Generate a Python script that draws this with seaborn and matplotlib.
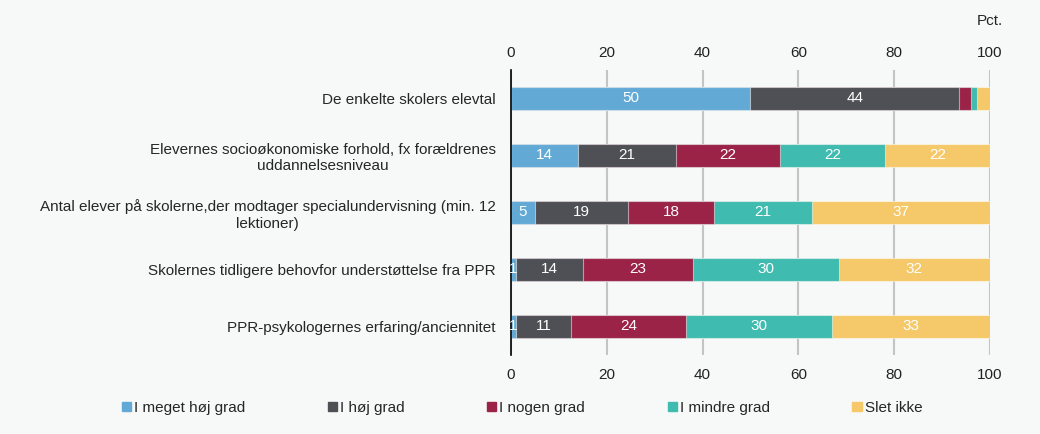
import numpy as np
import pandas as pd
import matplotlib
matplotlib.use("Agg")
import matplotlib.pyplot as plt
import seaborn as sns

# -------------------------------
# Data (pct.)
# -------------------------------
categories = [
    "De enkelte skolers elevtal",
    "Elevernes socioøkonomiske forhold, fx forældrenes\nuddannelsesniveau",
    "Antal elever på skolerne,der modtager specialundervisning (min. 12\nlektioner)",
    "Skolernes tidligere behovfor understøttelse fra PPR",
    "PPR-psykologernes erfaring/anciennitet",
]
series = ["I meget høj grad", "I høj grad", "I nogen grad", "I mindre grad", "Slet ikke"]

meget_hoej = [50, 14, 5, 1.1, 1.1]
hoej = [43.6, 20.4, 19.4, 14, 11.4]
nogen = [2.4, 21.8, 18, 22.8, 24]
mindre = [1.3, 21.9, 20.4, 30.5, 30.5]
slet_ikke = [2.7, 21.9, 37.2, 31.6, 33]

shown_labels = [
    ["50", "44", "", "", ""],
    ["14", "21", "22", "22", "22"],
    ["5", "19", "18", "21", "37"],
    ["1", "14", "23", "30", "32"],
    ["1", "11", "24", "30", "33"],
]

colors = ["#62aad5", "#4f5056", "#9b2348", "#40bbb0", "#f5c86a"]
bg = "#f7f8f8"
fs = 11

df = pd.DataFrame({
    "Kategori": categories,
    series[0]: meget_hoej,
    series[1]: hoej,
    series[2]: nogen,
    series[3]: mindre,
    series[4]: slet_ikke,
})
cum = df[series].cumsum(axis=1)

# -------------------------------
# Plot
# -------------------------------
sns.set_style("white")
plt.rcParams["font.family"] = ["Liberation Sans", "DejaVu Sans"]
plt.rcParams["font.size"] = fs

fig = plt.figure(figsize=(10.4, 4.34), dpi=100, facecolor=bg)
ax = fig.add_axes([0.4913, 0.182, 0.4606, 0.657])
ax.set_facecolor(bg)

# stacked bars: draw cumulative totals from the back to the front
for i in reversed(range(len(series))):
    sns.barplot(x=cum[series[i]], y=df["Kategori"], color=colors[i], width=0.4,
                orient="h", ax=ax, edgecolor=(1, 1, 1, 0.5), linewidth=0.8,
                saturation=1, zorder=2)

# segment labels
for r in range(len(categories)):
    left = 0
    for i, s in enumerate(series):
        v = df.loc[r, s]
        txt = shown_labels[r][i]
        if txt:
            ax.text(left + v / 2, r, txt, ha="center", va="center",
                    color="white", fontsize=fs, zorder=3)
        left += v

ticks = np.arange(0, 101, 20)
ax.set_xlim(0, 100)
ax.set_ylim(len(categories) - 0.5, -0.5)
ax.set_xticks(ticks)
ax.xaxis.grid(True, color="#c4c4c4", linewidth=1.5, zorder=0)
ax.set_axisbelow(True)
ax.tick_params(axis="x", length=0, pad=9, labelsize=fs, colors="#222222")

top = ax.secondary_xaxis("top")
top.set_xticks(ticks)
top.tick_params(axis="x", length=0, pad=7, labelsize=fs, colors="#222222")
top.spines["top"].set_visible(False)

ax.set_yticks(range(len(categories)))
ax.set_yticks(np.arange(-0.5, len(categories)), minor=True)
ax.tick_params(axis="y", which="major", length=0, pad=11, labelsize=fs)
ax.tick_params(axis="y", which="minor", length=4, width=1.2, color="black")
for lab in ax.get_yticklabels():
    lab.set_multialignment("center")
ax.set_xlabel("")
ax.set_ylabel("")

for side in ["top", "right", "bottom"]:
    ax.spines[side].set_visible(False)
ax.spines["left"].set_color("black")
ax.spines["left"].set_linewidth(1.2)

fig.text(0.952, 0.952, "Pct.", ha="center", va="center", fontsize=fs)

handles = [plt.Rectangle((0, 0), 1, 1, color=c) for c in colors]
fig.legend(handles, series, loc="center", bbox_to_anchor=(0.502, 0.06), ncol=5,
           frameon=False, handlelength=0.6, handleheight=0.6, handletextpad=0.2,
           columnspacing=5.4, fontsize=fs)

plt.savefig("out.png", dpi=100, facecolor=bg)
plt.close()
